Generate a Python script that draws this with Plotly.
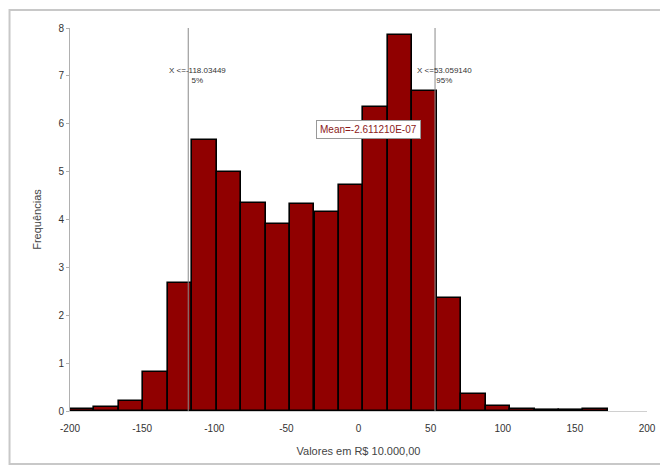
import plotly.graph_objects as go

# Data
bin_centers = [-191.5, -174.6, -157.6, -140.7, -123.7, -106.8, -89.8, -72.9, -55.9, -39.0, -22.0,
               -5.1, 11.9, 28.8, 45.8, 62.7, 79.7, 96.6, 113.6, 130.5, 147.5, 164.4]
frequencies = [0.05, 0.08, 0.20, 0.82, 2.68, 5.66, 5.00, 4.35, 3.90, 4.32, 4.16,
               4.73, 6.34, 7.86, 6.69, 2.36, 0.36, 0.10, 0.05, 0.03, 0.03, 0.04]
bin_width = 16.95
x_tick_vals = [-200, -150, -100, -50, 0, 50, 100, 150, 200]
x_tick_text = ["-200", "-150", "-100", "-50", "0", "50", "100", "150", "200"]
y_tick_vals = [0, 1, 2, 3, 4, 5, 6, 7, 8]
p5_value = -118.03449
p95_value = 53.059140
p5_label = "X <=-118.03449<br>5%"
p95_label = "X <=53.059140<br>95%"
mean_label = "Mean=-2.611210E-07"

fig = go.Figure()
fig.add_trace(go.Bar(
    x=bin_centers, y=frequencies, width=bin_width,
    marker=dict(color="#900000", line=dict(color="#000000", width=1.6)),
    showlegend=False, hoverinfo="x+y",
))

for v in (p5_value, p95_value):
    fig.add_shape(type="line", x0=v, x1=v, y0=0, y1=8, xref="x", yref="y",
                  line=dict(color="#8a8a8a", width=1), layer="above")

fig.add_annotation(x=p5_value, y=7.0, xref="x", yref="y", text=p5_label, showarrow=False,
                   xanchor="center", yanchor="middle", xshift=9, align="center",
                   font=dict(family="Liberation Sans", size=8, color="#333333"))
fig.add_annotation(x=p95_value, y=7.0, xref="x", yref="y", text=p95_label, showarrow=False,
                   xanchor="center", yanchor="middle", xshift=9, align="center",
                   font=dict(family="Liberation Sans", size=8, color="#333333"))
fig.add_annotation(x=7, y=5.87, xref="x", yref="y", text=mean_label, showarrow=False,
                   xanchor="center", yanchor="middle", bgcolor="#ffffff",
                   bordercolor="#999999", borderwidth=1, borderpad=3,
                   font=dict(family="Liberation Sans", size=10, color="#8b1a1a"))

# outer chart frame (open on the right, as in the reference)
fx0, fx1 = -61 / 582, 1.3
fy0, fy1 = -53 / 383, 1 + 18 / 383
fig.add_shape(type="path", xref="paper", yref="paper",
              path=f"M {fx1},{fy1} L {fx0},{fy1} L {fx0},{fy0} L {fx1},{fy0}",
              line=dict(color="#c8c8c8", width=2), layer="below")

fig.update_layout(
    width=660, height=466,
    margin=dict(l=62, r=16, t=20, b=63),
    paper_bgcolor="#ffffff", plot_bgcolor="#ffffff",
    bargap=0,
    font=dict(family="Liberation Sans", size=10, color="#333333"),
    xaxis=dict(range=[-200, 200], tickvals=x_tick_vals, ticktext=x_tick_text,
               showgrid=False, zeroline=False,
               showline=True, linecolor="#d0d0d0", linewidth=1, ticks="",
               ticklabelstandoff=8,
               tickfont=dict(size=10, color="#333333"),
               title=dict(text="Valores em R$ 10.000,00", font=dict(size=11, color="#444444"), standoff=14)),
    yaxis=dict(range=[0, 8], tickvals=y_tick_vals, showgrid=False, zeroline=False,
               showline=True, linecolor="#b0b0b0", linewidth=1, ticks="outside", ticklen=3,
               tickcolor="#b0b0b0", tickfont=dict(size=10, color="#333333"),
               title=dict(text="Frequências", font=dict(size=11, color="#444444"), standoff=14)),
)

fig.write_html("out.html")
